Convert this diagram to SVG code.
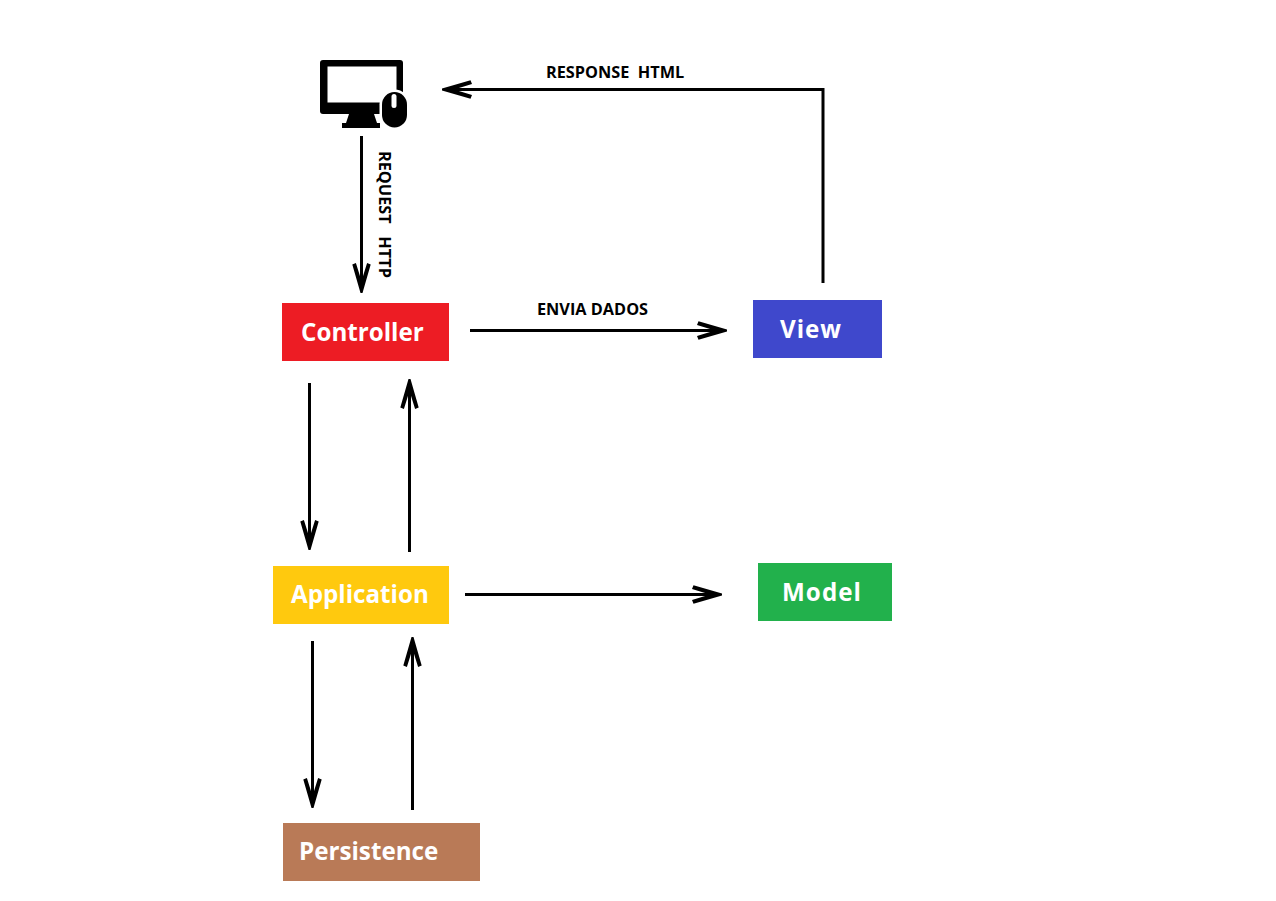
<svg xmlns="http://www.w3.org/2000/svg" width="1276" height="901" viewBox="0 0 1276 901">
<style>
.t{font-family:"Open Sans","Noto Sans","Liberation Sans",sans-serif;font-weight:700;fill:#fff;font-size:24.2px}
.l{font-family:"Open Sans","Noto Sans","Liberation Sans",sans-serif;font-weight:700;fill:#000;font-size:16.3px;white-space:pre}
.c{fill:none;stroke:#000;stroke-width:3}
</style>
<defs>
<marker id="a" markerUnits="userSpaceOnUse" markerWidth="34" markerHeight="24" refX="24" refY="12" orient="auto" overflow="visible">
<path d="M30 11 L1.500 2.800 L0 6.400 L18 12 L0 17.600 L1.500 21.200 L30 13 Z" fill="#000"/>
</marker>
</defs>
<rect width="1276" height="901" fill="#fff"/>
<g id="connectors">
<path class="c" d="M361.5 136V287" marker-end="url(#a)"/>
<path class="c" d="M823 283V89.5H448" marker-end="url(#a)"/>
<path class="c" d="M470 330.5H721" marker-end="url(#a)"/>
<path class="c" d="M309.5 383V544" marker-end="url(#a)"/>
<path class="c" d="M409.5 552V385" marker-end="url(#a)"/>
<path class="c" d="M465 594.5H716" marker-end="url(#a)"/>
<path class="c" d="M312.5 641V802" marker-end="url(#a)"/>
<path class="c" d="M412.5 810V643" marker-end="url(#a)"/>
<text class="l" x="546" y="78">RESPONSE  HTML</text>
<text class="l" x="537" y="315">ENVIA DADOS</text>
<text class="l" transform="translate(379 151) rotate(90)">REQUEST   HTTP</text>
</g>
<g id="client">
<rect x="320" y="60" width="83" height="54" rx="3"/>
<rect x="327.500" y="66.500" width="69" height="36" fill="#fff"/>
<path d="M349 114H374L377 123H380V128H342V123H346Z"/>
<rect x="379.5" y="89.5" width="30" height="40" rx="15" fill="#fff"/>
<rect x="382" y="92" width="25" height="35.500" rx="12.500"/>
<rect x="391.500" y="94" width="5" height="14" rx="2.500" fill="#fff"/>
</g>
<g id="controller"><rect x="282" y="303" width="167" height="58" fill="#ed1c24"/><text class="t" x="301" y="340.500">Controller</text></g>
<g id="view"><rect x="753" y="300" width="129" height="58" fill="#3f48cc"/><text class="t" x="780" y="337.500" textLength="61">View</text></g>
<g id="application"><rect x="273" y="566" width="176" height="58" fill="#ffc90e"/><text class="t" x="291" y="603">Application</text></g>
<g id="model"><rect x="758" y="563" width="134" height="58" fill="#22b14c"/><text class="t" x="782" y="600.500" textLength="79">Model</text></g>
<g id="persistence"><rect x="283" y="823" width="197" height="58" fill="#b97a57"/><text class="t" x="299" y="860">Persistence</text></g>
</svg>
